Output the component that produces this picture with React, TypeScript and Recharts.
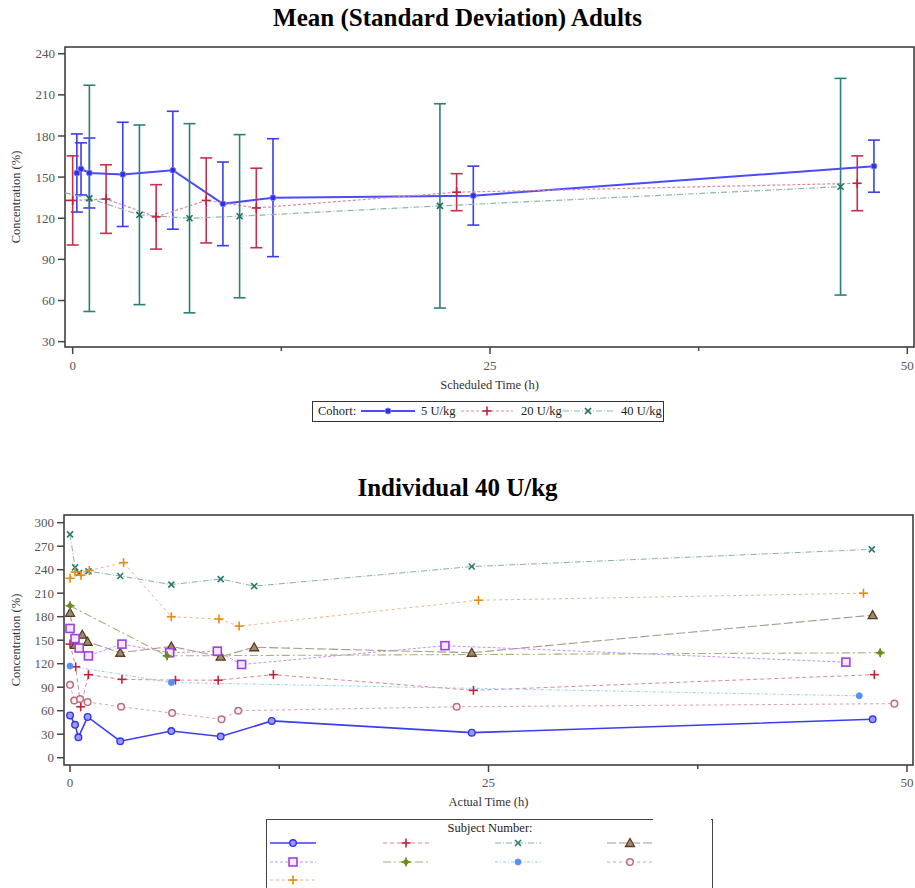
import React from "react";
import { ErrorBar, Line, LineChart, ReferenceArea, XAxis, YAxis } from "recharts";

const FONT = '"Liberation Serif", "Times New Roman", serif';

// ---- Mean (SD) by cohort, plotted against scheduled time (cohorts offset by 1 h)
const lowTime = [0.25, 0.5, 1, 3, 6, 9, 12, 24, 48];
const lowMean = [153, 156, 153, 152, 155, 130.5, 135, 136.5, 158];
const lowSd = [28.5, 19, 25.5, 38, 43, 30.5, 43, 21.5, 19];

const midTime = [-0.75, -0.5, 0, 2, 5, 8, 11, 23, 47];
const midMean = [131, 133, 133, 134, 121, 133, 127.5, 139, 145.5];
const midSd = [41, 38, 32.5, 25, 23.5, 31, 29, 13.5, 20];

const highTime = [-1.75, -1.5, -1, 1, 4, 7, 10, 22, 46];
const highMean = [141, 140, 140, 134.5, 122.5, 120, 121.5, 129, 143];
const highSd = [70, 70, 70, 82.5, 65.5, 69, 59.5, 74.5, 79];

const meanTicksY = [30, 60, 90, 120, 150, 180, 210, 240];
const timeTicks = [0, 12.5, 25, 37.5, 50];

// ---- Individual subjects, 40 U/kg, against actual time
const s1Time = [0, 0.3, 0.5, 1.05, 3, 6.05, 9, 12.05, 24, 47.95];
const s1Conc = [54, 42, 26, 52, 21, 34, 27, 47, 32, 49];
const s2Time = [0, 0.34, 0.64, 1.1, 3.1, 6.3, 8.85, 12.15, 24.1, 48.05];
const s2Conc = [145, 116, 65, 106, 100, 99, 99, 106, 86, 106];
const s3Time = [0, 0.3, 0.55, 1.1, 3, 6.05, 9, 11, 24, 47.9];
const s3Conc = [285, 243, 236, 238, 232, 221, 228, 219, 244, 266];
const s4Time = [0, 0.3, 0.73, 1.05, 3, 6.05, 9, 11, 24, 47.95];
const s4Conc = [185, 144, 157, 148, 134, 142, 129, 141, 134, 182];
const s5Time = [0, 0.3, 0.55, 1.1, 3.1, 5.95, 8.8, 10.25, 22.4, 46.35];
const s5Conc = [165, 152, 140, 130, 145, 134, 136, 119, 143, 122];
const s6Time = [0, 5.8, 48.4];
const s6Conc = [194, 130, 134];
const s7Time = [0, 6.05, 47.15];
const s7Conc = [117, 96, 79];
const s8Time = [0, 0.25, 0.6, 1.05, 3.05, 6.1, 9.05, 10.05, 23.1, 49.25];
const s8Conc = [93, 73, 75, 71, 65, 57, 49, 60, 65, 69];
const s9Time = [0, 0.3, 0.65, 1.15, 3.2, 6.05, 8.9, 10.1, 24.4, 47.4];
const s9Conc = [229, 237, 233, 239, 249, 180, 177, 168, 201, 210];

const indivTicksY = [0, 30, 60, 90, 120, 150, 180, 210, 240, 270, 300];

const meanDomainX: [number, number] = [-0.46, 50.4];
const meanDomainY: [number, number] = [26.1, 244.9];
const indivDomainX: [number, number] = [-0.36, 50.36];
const indivDomainY: [number, number] = [-9.3, 309.8];

// error bars are not clipped by the plot area, so points left of the frame keep only their line
const meanRows = (t: number[], m: number[], s: number[]) =>
  t.map((time, i) => ({ time, mean: m[i], sd: time < meanDomainX[0] ? undefined : s[i] }));
const concRows = (t: number[], v: number[]) => t.map((time, i) => ({ time, conc: v[i] }));

type Shape = "dot" | "plus" | "cross" | "triangle" | "square" | "diamondPlus" | "ring" | "ringFill";

function Marker({ cx, cy, shape, color }: { cx: number; cy: number; shape: Shape; color: string }) {
  if (cx == null || cy == null) return null;
  switch (shape) {
    case "dot":
      return <circle cx={cx} cy={cy} r={3} fill={color} stroke="#8080ff" strokeWidth={1} />;
    case "plus":
      return (
        <g stroke={color} strokeWidth={1.6}>
          <line x1={cx - 4.5} x2={cx + 4.5} y1={cy} y2={cy} />
          <line x1={cx} x2={cx} y1={cy - 4.5} y2={cy + 4.5} />
        </g>
      );
    case "cross":
      return (
        <g stroke={color} strokeWidth={1.6}>
          <line x1={cx - 3} x2={cx + 3} y1={cy - 3} y2={cy + 3} />
          <line x1={cx - 3} x2={cx + 3} y1={cy + 3} y2={cy - 3} />
        </g>
      );
    case "triangle":
      return (
        <polygon
          points={`${cx},${cy - 4.5} ${cx - 4.5},${cy + 3.5} ${cx + 4.5},${cy + 3.5}`}
          fill="#a08a70"
          stroke={color}
          strokeWidth={1.3}
        />
      );
    case "square":
      return <rect x={cx - 4} y={cy - 4} width={8} height={8} fill="#f4e8ff" stroke={color} strokeWidth={1.6} />;
    case "diamondPlus":
      return (
        <g stroke={color} strokeWidth={1.6}>
          <line x1={cx - 4.5} x2={cx + 4.5} y1={cy} y2={cy} />
          <line x1={cx} x2={cx} y1={cy - 4.5} y2={cy + 4.5} />
          <polygon points={`${cx},${cy - 2.5} ${cx + 2.5},${cy} ${cx},${cy + 2.5} ${cx - 2.5},${cy}`} fill={color} />
        </g>
      );
    case "ring":
      return <circle cx={cx} cy={cy} r={3.3} fill="#fbeff2" stroke={color} strokeWidth={1.5} />;
    case "ringFill":
      return <circle cx={cx} cy={cy} r={3.3} fill="#9a9aff" stroke={color} strokeWidth={1.4} />;
  }
  return null;
}

const dotFor = (shape: Shape, color: string) => (p: any) => (
  <Marker key={`m-${p.index}`} cx={p.cx} cy={p.cy} shape={shape} color={color} />
);

const cohorts = [
  { name: "5 U/kg", data: meanRows(lowTime, lowMean, lowSd), line: "#4a4aff", width: 2, dash: undefined, bar: "#3c3cf0", shape: "dot" as Shape, mark: "#3030e0" },
  { name: "20 U/kg", data: meanRows(midTime, midMean, midSd), line: "#d88c9a", width: 1.2, dash: "3 2", bar: "#c8304a", shape: "plus" as Shape, mark: "#c02040" },
  { name: "40 U/kg", data: meanRows(highTime, highMean, highSd), line: "#8db4ac", width: 1.2, dash: "6 2 1 2", bar: "#2a8072", shape: "cross" as Shape, mark: "#1f6f63" },
];

const subjects = [
  { id: "s1", data: concRows(s1Time, s1Conc), line: "#3c3cf5", width: 1.6, dash: undefined, shape: "ringFill" as Shape, mark: "#3434e8" },
  { id: "s2", data: concRows(s2Time, s2Conc), line: "#d88890", width: 1, dash: "4 3", shape: "plus" as Shape, mark: "#c8203c" },
  { id: "s3", data: concRows(s3Time, s3Conc), line: "#88b0a8", width: 1, dash: "6 2 1 2", shape: "cross" as Shape, mark: "#2a7a70" },
  { id: "s4", data: concRows(s4Time, s4Conc), line: "#a89888", width: 1.1, dash: "9 3", shape: "triangle" as Shape, mark: "#5a3c22" },
  { id: "s5", data: concRows(s5Time, s5Conc), line: "#c890f0", width: 1, dash: "3 2", shape: "square" as Shape, mark: "#a040e0" },
  { id: "s6", data: concRows(s6Time, s6Conc), line: "#a6b478", width: 1.1, dash: "8 3 2 3", shape: "diamondPlus" as Shape, mark: "#6a8c20" },
  { id: "s7", data: concRows(s7Time, s7Conc), line: "#90c8ff", width: 1, dash: "3 2 1 2", shape: "dot" as Shape, mark: "#3a9cf8" },
  { id: "s8", data: concRows(s8Time, s8Conc), line: "#d8a0b0", width: 1, dash: "3 3", shape: "ring" as Shape, mark: "#b87080" },
  { id: "s9", data: concRows(s9Time, s9Conc), line: "#f0b488", width: 1, dash: "3 3", shape: "plus" as Shape, mark: "#e88a10" },
];

function TimeTick(props: any) {
  const { x, y, payload, labelDy } = props;
  const major = payload.value % 25 === 0;
  return (
    <g>
      <line x1={x} x2={x} y1={y} y2={y + (major ? 7 : 4)} stroke="#444" strokeWidth={1.5} />
      {major && (
        <text x={x} y={y + labelDy} textAnchor="middle" fontSize={13} fill="#555" fontFamily={FONT}>
          {payload.value}
        </text>
      )}
    </g>
  );
}

function Swatch({ width, line, lineWidth, dash, shape, mark }: any) {
  return (
    <svg width={width} height={12} style={{ display: "block" }}>
      <line x1={0} x2={width} y1={6} y2={6} stroke={line} strokeWidth={lineWidth} strokeDasharray={dash} />
      <Marker cx={width / 2} cy={6} shape={shape} color={mark} />
    </svg>
  );
}

const tickStyle = { fontSize: 13, fill: "#555", fontFamily: FONT };
const labelStyle = { fontSize: 12.5, fill: "#333", fontFamily: FONT, textAnchor: "middle" as const };

function MeanChart() {
  return (
    <LineChart width={915} height={400} margin={{ top: 47, right: 1, bottom: 0, left: 0 }}>
      <XAxis
        type="number"
        dataKey="time"
        domain={meanDomainX}
        ticks={timeTicks}
        allowDataOverflow
        axisLine={false}
        tickLine={false}
        tickSize={0}
        tickMargin={0}
        interval={0}
        height={53}
        tick={(p: any) => <TimeTick {...p} labelDy={23} />}
        label={{ value: "Scheduled Time (h)", position: "insideBottom", offset: 11, style: labelStyle }}
      />
      <YAxis
        type="number"
        domain={meanDomainY}
        ticks={meanTicksY}
        allowDataOverflow
        width={65}
        axisLine={false}
        tickSize={7}
        tickMargin={3}
        tickLine={{ stroke: "#444", strokeWidth: 1.5 }}
        tick={tickStyle}
        label={{ value: "Concentration (%)", angle: -90, position: "insideLeft", offset: 16, style: labelStyle }}
      />
      <ReferenceArea x1={meanDomainX[0]} x2={meanDomainX[1]} y1={meanDomainY[0]} y2={meanDomainY[1]} fill="none" stroke="#333" strokeWidth={1.5} />
      {cohorts.map((c) => (
        <Line
          key={c.name}
          data={c.data}
          dataKey="mean"
          type="linear"
          stroke={c.line}
          strokeWidth={c.width}
          strokeDasharray={c.dash}
          dot={dotFor(c.shape, c.mark)}
          activeDot={false}
          isAnimationActive={false}
        >
          <ErrorBar dataKey="sd" direction="y" width={6} stroke={c.bar} strokeWidth={1.6} />
        </Line>
      ))}
    </LineChart>
  );
}

function IndividualChart() {
  return (
    <LineChart width={915} height={380} margin={{ top: 75, right: 2, bottom: 0, left: 0 }}>
      <XAxis
        type="number"
        dataKey="time"
        domain={indivDomainX}
        ticks={timeTicks}
        allowDataOverflow
        axisLine={false}
        tickLine={false}
        tickSize={0}
        tickMargin={0}
        interval={0}
        height={55}
        tick={(p: any) => <TimeTick {...p} labelDy={22} />}
        label={{ value: "Actual Time (h)", position: "insideBottom", offset: 14, style: labelStyle }}
      />
      <YAxis
        type="number"
        domain={indivDomainY}
        ticks={indivTicksY}
        allowDataOverflow
        width={64}
        axisLine={false}
        tickSize={7}
        tickMargin={3}
        tickLine={{ stroke: "#444", strokeWidth: 1.5 }}
        tick={tickStyle}
        label={{ value: "Concentration (%)", angle: -90, position: "insideLeft", offset: 16, style: labelStyle }}
      />
      <ReferenceArea x1={indivDomainX[0]} x2={indivDomainX[1]} y1={indivDomainY[0]} y2={indivDomainY[1]} fill="none" stroke="#333" strokeWidth={1.5} />
      {subjects.map((s) => (
        <Line
          key={s.id}
          data={s.data}
          dataKey="conc"
          type="linear"
          stroke={s.line}
          strokeWidth={s.width}
          strokeDasharray={s.dash}
          dot={dotFor(s.shape, s.mark)}
          activeDot={false}
          isAnimationActive={false}
        />
      ))}
    </LineChart>
  );
}

const titleStyle: React.CSSProperties = {
  position: "absolute",
  left: 0,
  width: 915,
  textAlign: "center",
  fontFamily: FONT,
  fontWeight: "bold",
  fontSize: 25,
  lineHeight: "26px",
  color: "#000",
};

const legendText: React.CSSProperties = {
  position: "absolute",
  fontFamily: FONT,
  fontSize: 12.5,
  color: "#222",
  lineHeight: "14px",
};

const cohortSwatchX = [361, 461, 563];
const cohortSwatchW = [54, 52, 50];
const cohortLabelX = [421, 521, 621];
const subjectColX = [270, 383, 495, 607];
const subjectRowY = [837, 856, 874];

export default function App() {
  return (
    <div style={{ position: "absolute", left: 0, top: 0, width: 915, height: 888, background: "#fff", overflow: "hidden" }}>
      <div style={{ ...titleStyle, top: 5 }}>Mean (Standard Deviation) Adults</div>
      <div style={{ position: "absolute", left: 0, top: 0 }}>
        <MeanChart />
      </div>

      <div style={{ position: "absolute", left: 312, top: 401, width: 350, height: 19, border: "1.5px solid #333" }} />
      <div style={{ ...legendText, left: 318, top: 404 }}>Cohort:</div>
      {cohorts.map((c, i) => (
        <React.Fragment key={c.name}>
          <div style={{ position: "absolute", left: cohortSwatchX[i], top: 405 }}>
            <Swatch width={cohortSwatchW[i]} line={c.line} lineWidth={c.width} dash={c.dash} shape={c.shape} mark={c.mark} />
          </div>
          <div style={{ ...legendText, left: cohortLabelX[i], top: 404 }}>{c.name}</div>
        </React.Fragment>
      ))}

      <div style={{ ...titleStyle, top: 475 }}>Individual 40 U/kg</div>
      <div style={{ position: "absolute", left: 0, top: 440 }}>
        <IndividualChart />
      </div>

      <div style={{ position: "absolute", left: 266, top: 819, width: 445, height: 90, border: "1.5px solid #444" }} />
      <div style={{ position: "absolute", left: 653, top: 812, width: 58, height: 65, background: "#fff" }} />
      <div style={{ ...legendText, left: 266, width: 448, textAlign: "center", top: 821 }}>Subject Number:</div>
      {subjects.map((s, i) => (
        <div key={s.id} style={{ position: "absolute", left: subjectColX[i % 4], top: subjectRowY[Math.floor(i / 4)] }}>
          <Swatch width={46} line={s.line} lineWidth={s.width} dash={s.dash} shape={s.shape} mark={s.mark} />
        </div>
      ))}
    </div>
  );
}
